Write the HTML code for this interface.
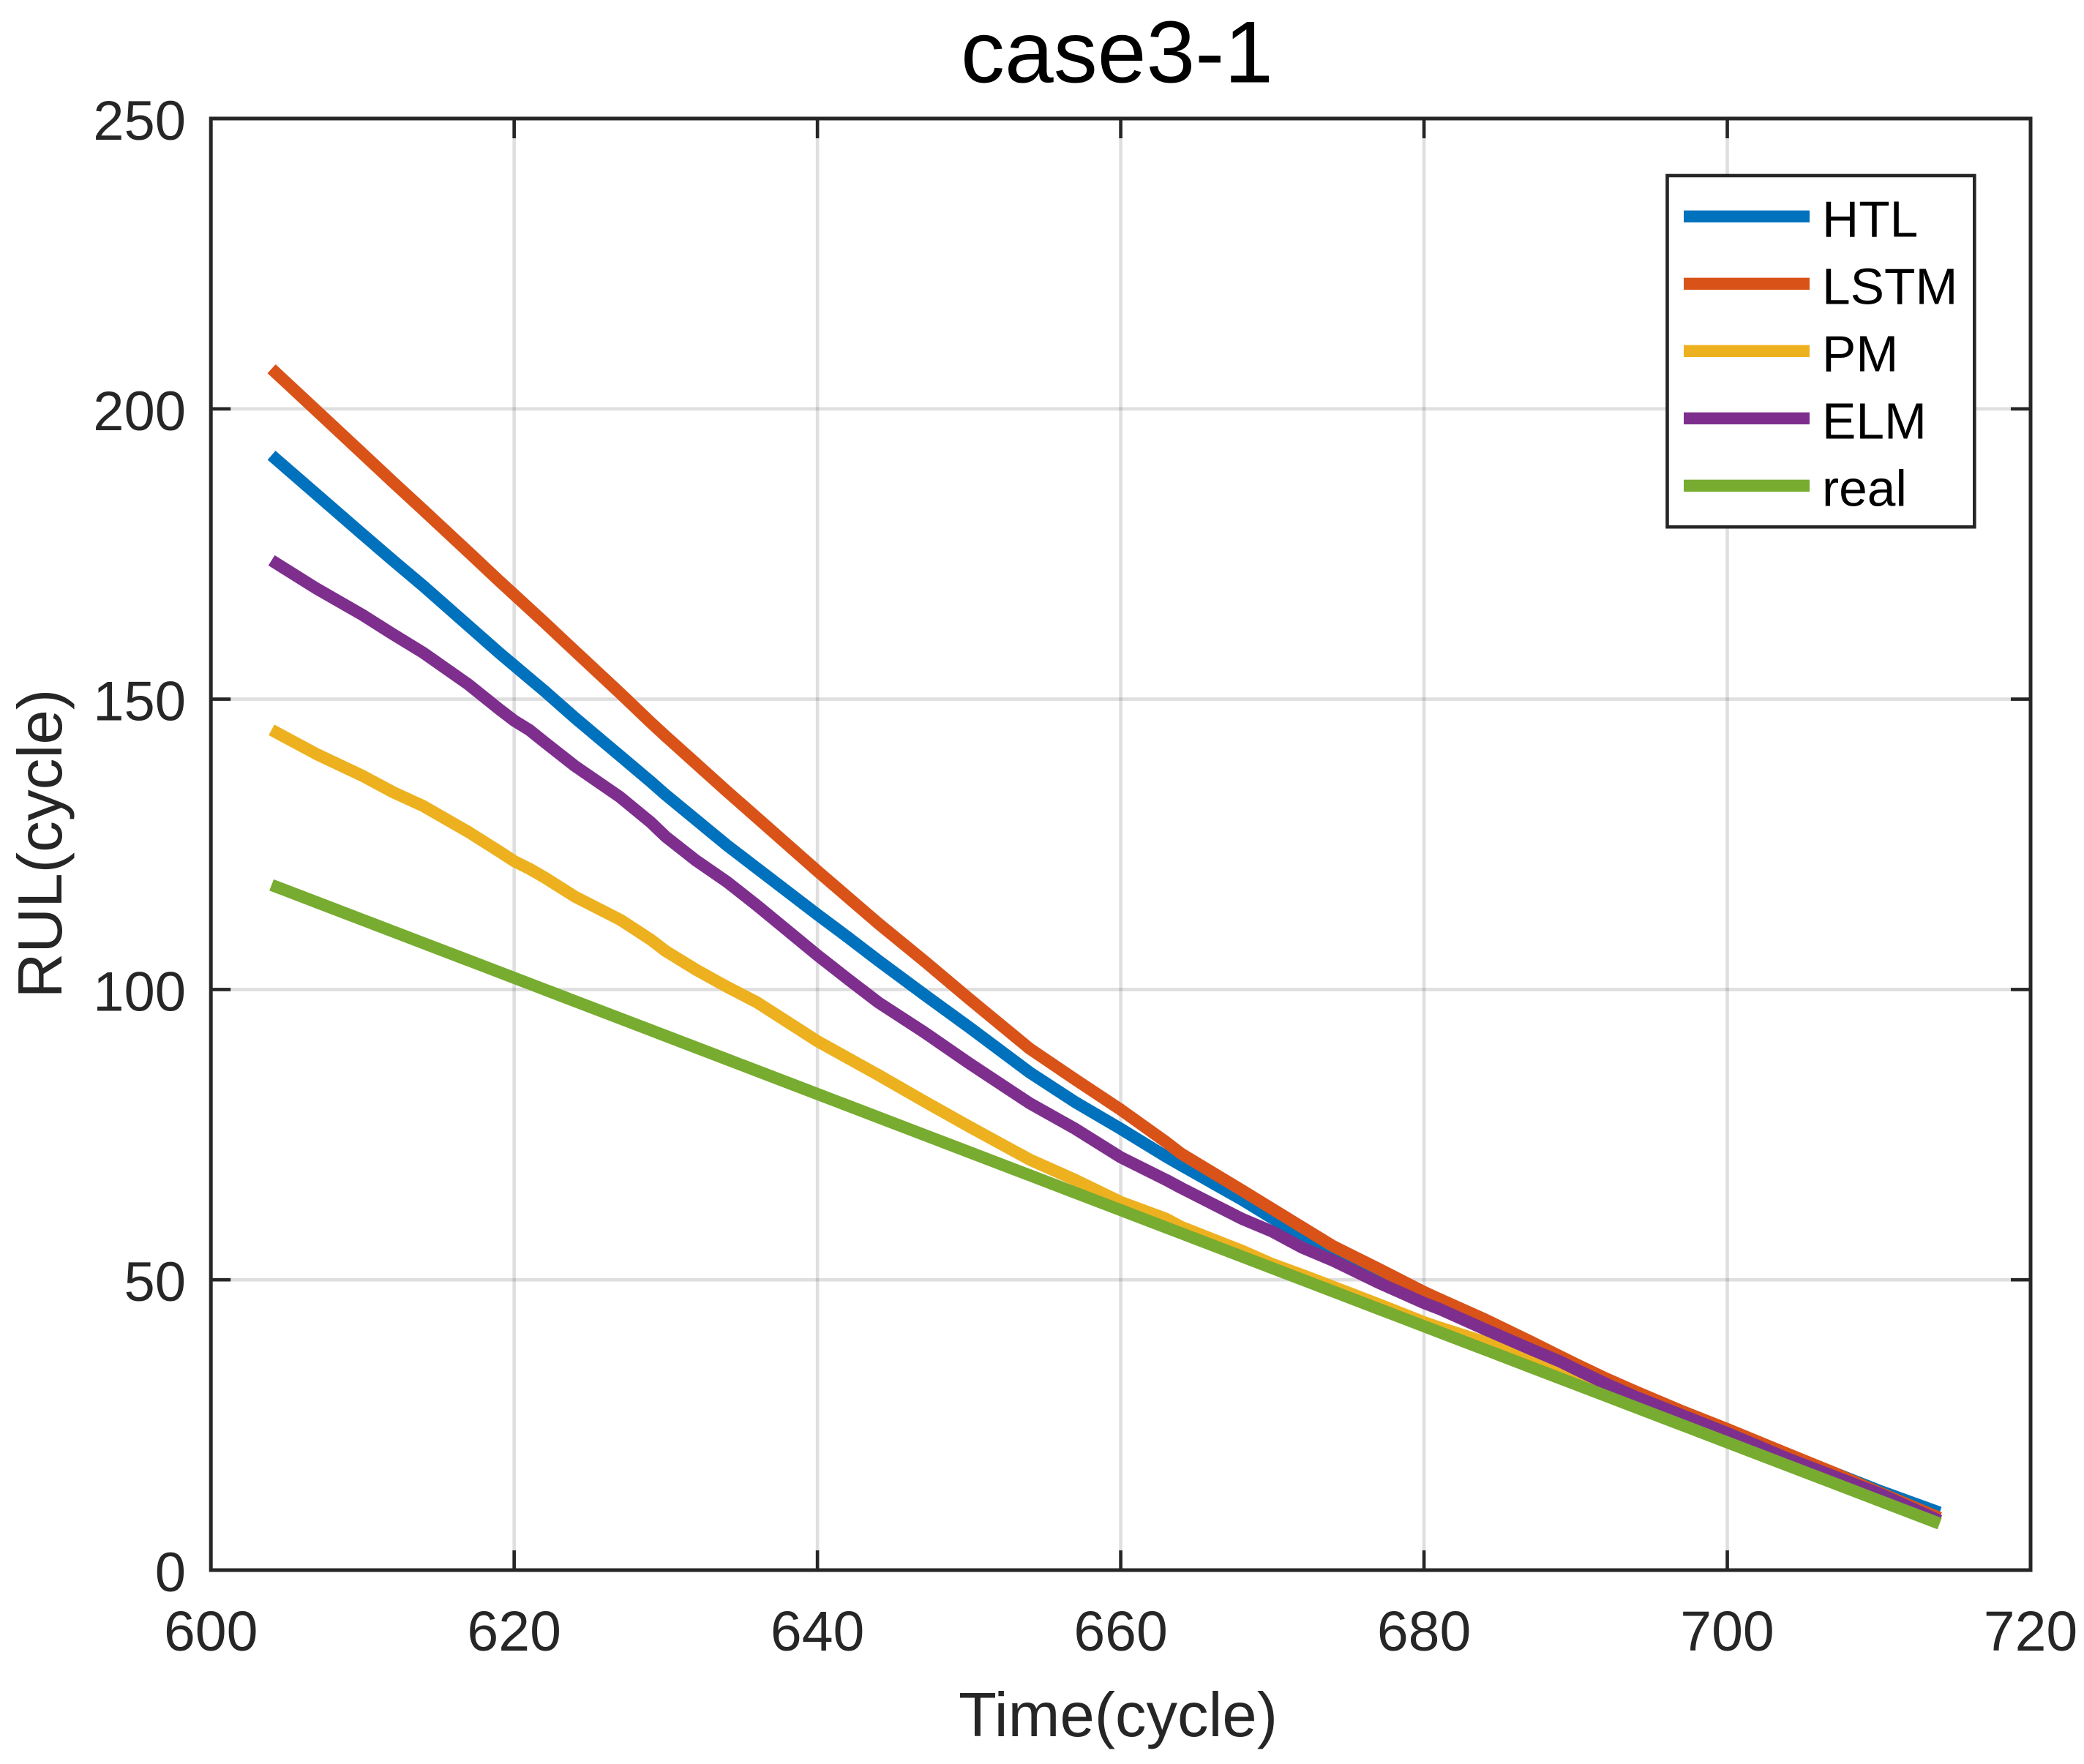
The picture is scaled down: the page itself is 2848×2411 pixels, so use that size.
<!DOCTYPE html>
<html lang="en">
<head>
<meta charset="utf-8">
<title>case3-1</title>
<style>
html,body{margin:0;padding:0;background:#fff;}
svg{display:block;font-family:"Liberation Sans",Arial,sans-serif;}
</style>
</head>
<body>
<svg id="chart" xmlns="http://www.w3.org/2000/svg" width="2848" height="2411" viewBox="0 0 2848 2411">
  <rect x="0" y="0" width="2848" height="2411" fill="#ffffff"/>
  <text x="1313" y="112.7" font-size="120" fill="#000000">case3-1</text>
  <text x="1528" y="2373" font-size="85" fill="#262626" text-anchor="middle">Time(cycle)</text>
  <text transform="translate(84,1153) rotate(-90)" x="0" y="0" font-size="85.5" fill="#262626" text-anchor="middle">RUL(cycle)</text>
  <g id="grid"></g>
  <g id="series"></g>
  <g id="axes"></g>
  <g id="legend"></g>
</svg>
<script>
const cycles = [604,607,610,612,614,617,619,620,621,622,624,627,629,630,632,634,636,640,642,644,647,650,654,657,660,663,664,668,670,672,674,677,680,681,684,687,689,690,692,694,697,700,704,707,710,714];
const htlValues = [192,185.2,178.4,173.9,169.5,162.6,158,155.8,153.6,151.4,146.8,140.2,135.8,133.5,129.2,124.9,120.9,112.9,109,105,99.2,93.5,85.7,80.6,76,71.2,69.7,63.8,60.6,57.8,55,51.3,47.4,46.2,42.6,38.9,36.4,35.2,32.8,30.5,27.3,24,19.9,16.8,13.7,9.9];
const lstmValues = [206.9,199.6,192.3,187.4,182.6,175.3,170.4,168,165.6,163.2,158.3,151,146,143.6,138.9,134.2,129.6,120.4,115.9,111.4,105,98.4,89.8,84.5,79.3,73.7,71.7,65.4,62.2,59,55.8,51.9,47.9,46.7,43.2,39.4,36.8,35.5,33,30.7,27.4,24.3,20,16.8,13.4,9];
const pmValues = [144.7,140.5,136.8,134,131.6,127.1,123.8,122.1,120.8,119.3,116,112,108.6,106.6,103.4,100.5,97.8,91.1,88.2,85.3,80.8,76.4,70.7,67.2,63.4,60.5,59.1,55,52.7,50.8,48.8,45.8,42.7,41.8,39.3,36,33.7,32.7,30.6,28.5,25.6,22.6,18.5,15.5,12.5,8.3];
const elmValues = [173.9,169,164.5,161.2,158,152.5,148.3,146.3,144.7,142.6,138.5,133.1,128.8,126.3,122.2,118.6,114.5,105.9,101.8,97.8,92.7,87.3,80.4,76,71.1,67.2,65.8,60.5,58.3,55.5,53.3,49.5,46,45,41.5,38.1,35.9,34.6,32.1,29.8,26.7,23.6,19.2,16.2,13.2,8.5];
const realValues = [118,115,112,110,108,105,103,102,101,100,98,95,93,92,90,88,86,82,80,78,75,72,68,65,62,59,58,54,52,50,48,45,42,41,38,35,33,32,30,28,25,22,18,15,12,8];
const xTicks = [600,620,640,660,680,700,720];
const yTicks = [0,50,100,150,200,250];
const seriesNames = ['HTL','LSTM','PM','ELM','real'];
const seriesColors = ['#0072BD','#D95319','#EDB120','#7E2F8E','#77AC30'];
const seriesData = [htlValues,lstmValues,pmValues,elmValues,realValues];

const NS = 'http://www.w3.org/2000/svg';
const plot = {left:288.2,right:2775,top:162,bottom:2146,xMin:600,xMax:720,yMin:0,yMax:250};
function xScale(v){return plot.left+(v-plot.xMin)/(plot.xMax-plot.xMin)*(plot.right-plot.left);}
function yScale(v){return plot.bottom-(v-plot.yMin)/(plot.yMax-plot.yMin)*(plot.bottom-plot.top);}
function make(tag,parent,props,text){
  const el=document.createElementNS(NS,tag);
  for(const k in props){el.setAttribute(k,props[k]);}
  if(text!==undefined){el.textContent=text;}
  parent.appendChild(el);
  return el;
}
const gridG=document.getElementById('grid');
const seriesG=document.getElementById('series');
const axesG=document.getElementById('axes');
const legendG=document.getElementById('legend');
const axisColor='#262626';
const tickLen=27;
const axisW=4.6;

xTicks.forEach(function(t){
  const px=xScale(t);
  if(t!==plot.xMin&&t!==plot.xMax){
    const g=make('line',gridG,{x1:px,x2:px,y1:plot.top,y2:plot.bottom,stroke:axisColor,'stroke-opacity':0.15,'stroke-width':axisW});
    
    
    const a=make('line',axesG,{x1:px,x2:px,y1:plot.bottom,y2:plot.bottom-tickLen,stroke:axisColor,'stroke-width':axisW});
    
    
    const b=make('line',axesG,{x1:px,x2:px,y1:plot.top,y2:plot.top+tickLen,stroke:axisColor,'stroke-width':axisW});
    
    
  }
  const l=make('text',axesG,{x:px,y:2256,'font-size':77,fill:axisColor,'text-anchor':'middle'},String(t));
  
  
});

yTicks.forEach(function(t){
  const py=yScale(t);
  if(t!==plot.yMin&&t!==plot.yMax){
    const g=make('line',gridG,{x1:plot.left,x2:plot.right,y1:py,y2:py,stroke:axisColor,'stroke-opacity':0.15,'stroke-width':axisW});
    
    
    const a=make('line',axesG,{x1:plot.left,x2:plot.left+tickLen,y1:py,y2:py,stroke:axisColor,'stroke-width':axisW});
    
    
    const b=make('line',axesG,{x1:plot.right,x2:plot.right-tickLen,y1:py,y2:py,stroke:axisColor,'stroke-width':axisW});
    
    
  }
  const l=make('text',axesG,{x:254,y:py+29,'font-size':76,fill:axisColor,'text-anchor':'end'},String(t));
  
  
});

const frame=make('rect',axesG,{x:plot.left,y:plot.top,width:plot.right-plot.left,height:plot.bottom-plot.top,fill:'none',stroke:axisColor,'stroke-width':5});



seriesData.forEach(function(vals,i){
  const d=vals.map(function(v,j){return (j?'L':'M')+xScale(cycles[j]).toFixed(2)+' '+yScale(v).toFixed(2);}).join(' ');
  const p=make('path',seriesG,{d:d,fill:'none',stroke:seriesColors[i],'stroke-width':16.5,'stroke-linejoin':'round','stroke-linecap':'butt'});
  
  
});

const box=make('rect',legendG,{x:2278.5,y:240,width:419.8,height:480.2,fill:'#ffffff',stroke:axisColor,'stroke-width':4.6});


seriesNames.forEach(function(name,i){
  const cy=295.8+i*92;
  const ln=make('line',legendG,{x1:2301,x2:2473,y1:cy,y2:cy,stroke:seriesColors[i],'stroke-width':16.4});
  
  
  const tx=make('text',legendG,{x:2490,y:cy+27.8,'font-size':69.5,fill:'#000000'},name);
  
  
});
</script>
</body>
</html>
